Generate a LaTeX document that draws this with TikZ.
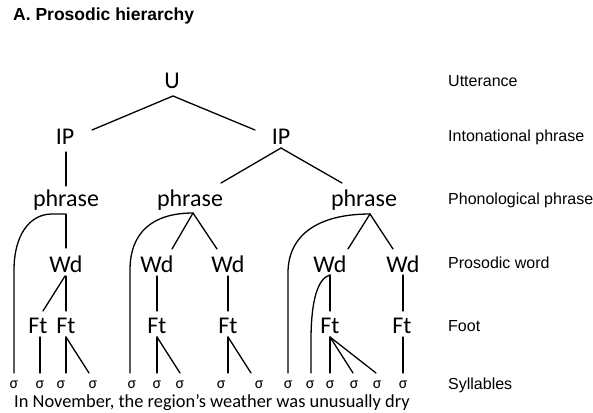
\documentclass[tikz,border=0pt]{standalone}
\usepackage{fontspec}
\setmainfont{Liberation Sans}
\newfontfamily\treefont{Carlito}
\usetikzlibrary{calc}
\begin{document}
\begin{tikzpicture}[x=1pt,y=-1pt,
  tree/.style={font=\treefont\fontsize{24}{28}\selectfont, inner sep=0pt, outer sep=0pt, text height=16pt, text depth=5pt, anchor=base},
  syl/.style={font=\treefont\fontsize{16}{18}\selectfont, inner sep=0pt, outer sep=0pt, text height=7pt, text depth=0pt, anchor=base},
  lvl/.style={font=\fontsize{16}{19}\selectfont, inner sep=0pt, anchor=base west},
  ln/.style={line width=1.3pt, line cap=round}]
\useasboundingbox (0,0) rectangle (593,412);
\fill[white] (0,0) rectangle (593,412);

% title
\node[font=\bfseries\fontsize{17.5}{20}\selectfont, inner sep=0pt, anchor=base west] (title) at (13,21) {A. Prosodic hierarchy};

% level labels
\node[lvl] (lU)  at (448,86)  {Utterance};
\node[lvl] (lIP) at (448,141) {Intonational phrase};
\node[lvl] (lPh) at (448,204) {Phonological phrase};
\node[lvl] (lWd) at (448,268) {Prosodic word};
\node[lvl] (lFt) at (448,331) {Foot};
\node[lvl] (lS)  at (448,389) {Syllables};

% tree nodes
\node[tree] (U)   at (172,88)  {U};
\node[tree] (IPl) at (65,144)  {IP};
\node[tree] (IPr) at (281,144) {IP};
\node[tree] (ph1) at (66,206)  {phrase};
\node[tree] (ph2) at (190,206) {phrase};
\node[tree] (ph3) at (364,206) {phrase};
\node[tree] (Wd1) at (66,272)  {Wd};
\node[tree] (Wd2) at (157,272) {Wd};
\node[tree] (Wd3) at (228,272) {Wd};
\node[tree] (Wd4) at (330,272) {Wd};
\node[tree] (Wd5) at (403,272) {Wd};
\node[tree] (Ft1) at (38,333)  {Ft};
\node[tree] (Ft2) at (66,333)  {Ft};
\node[tree] (Ft3) at (157,333) {Ft};
\node[tree] (Ft4) at (228,333) {Ft};
\node[tree] (Ft5) at (330,333) {Ft};
\node[tree] (Ft6) at (402,333) {Ft};

% syllables
\foreach \i/\x in {1/14,2/40,3/61,4/93,5/132,6/157,7/180,8/221,9/259,10/288,11/310,12/330,13/354,14/377,15/403}
  \node[syl] (s\i) at (\x,388) {σ};

% sentence
\node[font=\treefont\fontsize{18.4}{21}\selectfont, inner sep=0pt, anchor=base west] (sent) at (14,407) {In November, the region’s weather was unusually dry};

% connectors: U and IP
\draw[ln] ($(U.south)+(1,3)$) -- ($(IPl.north)+(27,2)$);
\draw[ln] ($(U.south)+(1,3)$) -- ($(IPr.north)+(-26,2)$);
\draw[ln] ($(ph1.north |- IPl.south)+(0,3)$) -- ($(ph1.north)+(0,-4)$);
\draw[ln] ($(IPr.south)+(0,-1)$) -- ($(ph2.north)+(31,-7)$);
\draw[ln] ($(IPr.south)+(0,-1)$) -- ($(ph3.north)+(-22,-7)$);

% phrase 1
\draw[ln] ($(ph1.south)+(0,3)$) -- ($(Wd1.north)+(0,-8)$);
\draw[ln] ($(ph1.south)+(-1,3)$) -- ++(-13,0) .. controls +(-23,0) and +(0,-34) .. ($(s1.north)+(0,-111)$) -- ($(s1.north)+(0,-8)$);
\draw[ln] ($(Wd1.south)+(-1,-1)$) -- ($(Ft1.north)+(5,-6)$);
\draw[ln] ($(Wd1.south)+(0,-1)$) -- ($(Ft2.north)+(0,-6)$);
\draw[ln] ($(s2.north |- Ft1.south)+(0,-1)$) -- ($(s2.north)+(0,-8)$);
\draw[ln] ($(Ft2.south)+(0,-1)$) -- ($(Ft2.south |- s3.north)+(0,-8)$);
\draw[ln] ($(Ft2.south)+(0,-1)$) -- ($(s4.north)+(-4,-8)$);

% phrase 2
\draw[ln] ($(ph2.south)+(3,2)$) -- ($(Wd2.north)+(15,-7)$);
\draw[ln] ($(ph2.south)+(3,2)$) -- ($(Wd3.north)+(-11,-7)$);
\draw[ln] ($(ph2.south)+(3,2)$) .. controls +(-40,0) and +(0,-38) .. ($(s5.north)+(-2,-111)$) -- ($(s5.north)+(-2,-8)$);
\draw[ln] ($(Wd2.south)+(0,-1)$) -- ($(Ft3.north)+(0,-6)$);
\draw[ln] ($(Wd3.south)+(0,-1)$) -- ($(Ft4.north)+(0,-6)$);
\draw[ln] ($(Ft3.south)+(0,-1)$) -- ($(s6.north)+(0,-8)$);
\draw[ln] ($(Ft3.south)+(0,-1)$) -- ($(s7.north)+(0,-8)$);
\draw[ln] ($(Ft4.south)+(0,-1)$) -- ($(Ft4.south |- s8.north)+(0,-8)$);
\draw[ln] ($(Ft4.south)+(0,-1)$) -- ($(s9.north)+(-8,-8)$);

% phrase 3
\draw[ln] ($(ph3.south)+(6,3)$) -- ($(Wd4.north)+(18,-7)$);
\draw[ln] ($(ph3.south)+(6,3)$) -- ($(Wd5.north)+(-10,-7)$);
\draw[ln] ($(ph3.south)+(6,3)$) .. controls +(-52,0) and +(0,-38) .. ($(s10.north)+(0,-108)$) -- ($(s10.north)+(0,-8)$);
\draw[ln] ($(Wd4.south)+(0,-2)$) -- ($(Ft5.north)+(0,-6)$);
\draw[ln] ($(Wd4.south)+(0,-2)$) .. controls +(-12,3) and +(0,-40) .. ($(s11.north)+(1,-41)$) -- ($(s11.north)+(1,-8)$);
\draw[ln] ($(Wd5.south)+(0,-2)$) -- ($(Ft6.north)+(1,-6)$);
\draw[ln] ($(Ft5.south)+(0,-1)$) -- ($(s12.north)+(0,-8)$);
\draw[ln] ($(Ft5.south)+(0,-1)$) -- ($(s13.north)+(-1,-8)$);
\draw[ln] ($(Ft5.south)+(0,-1)$) -- ($(s14.north)+(-1,-8)$);
\draw[ln] ($(Ft6.south)+(1,-1)$) -- ($(s15.north)+(0,-8)$);
\end{tikzpicture}
\end{document}
